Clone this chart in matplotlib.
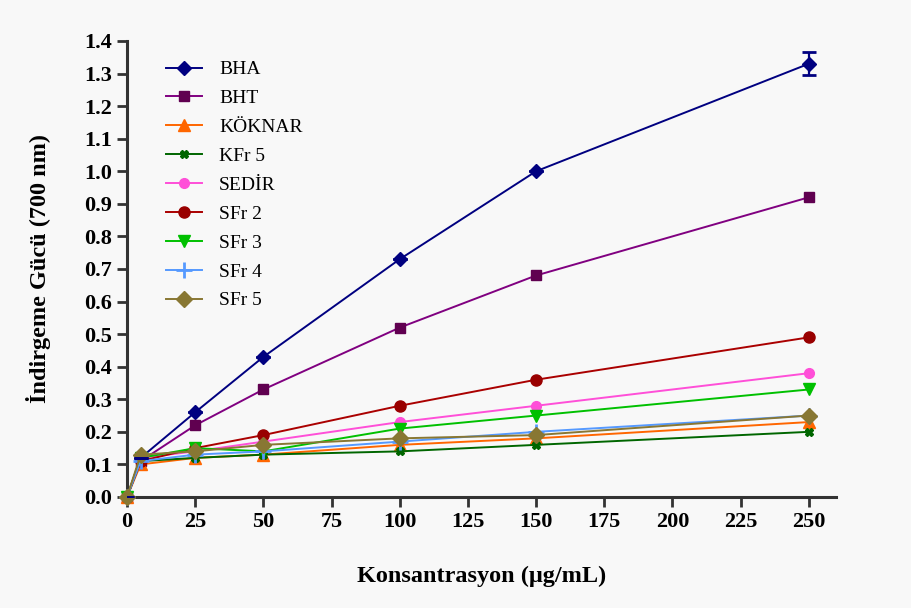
import numpy as np
import matplotlib.pyplot as plt

conc = [0, 5, 25, 50, 100, 150, 250]

bha = [0.0, 0.12, 0.26, 0.43, 0.73, 1.00, 1.33]
bht = [0.0, 0.11, 0.22, 0.33, 0.52, 0.68, 0.92]
koknar = [0.0, 0.10, 0.12, 0.13, 0.16, 0.18, 0.23]
kfr5 = [0.0, 0.11, 0.12, 0.13, 0.14, 0.16, 0.20]
sedir = [0.0, 0.12, 0.14, 0.17, 0.23, 0.28, 0.38]
sfr2 = [0.0, 0.11, 0.15, 0.19, 0.28, 0.36, 0.49]
sfr3 = [0.0, 0.12, 0.15, 0.14, 0.21, 0.25, 0.33]
sfr4 = [0.0, 0.11, 0.13, 0.14, 0.17, 0.20, 0.25]
sfr5 = [0.0, 0.13, 0.14, 0.16, 0.18, 0.19, 0.25]
bha_err = [0, 0, 0, 0, 0, 0, 0.035]

bg = "#f8f8f8"
fig = plt.figure(figsize=(9.11, 6.08), dpi=100, facecolor=bg)
ax = fig.add_axes([0.1394, 0.1826, 0.7783, 0.75])
ax.set_facecolor(bg)

series = [
    ("BHA", bha, "#000080", "#000080", "D", 7),
    ("BHT", bht, "#800080", "#600050", "s", 7),
    ("KÖKNAR", koknar, "#ff6600", "#ff6600", "^", 8),
    ("KFr 5", kfr5, "#006600", "#006600", "X", 6),
    ("SEDİR", sedir, "#ff4fd8", "#ff4fd8", "o", 7),
    ("SFr 2", sfr2, "#aa0000", "#990000", "o", 8),
    ("SFr 3", sfr3, "#00c000", "#00c000", "v", 8),
    ("SFr 4", sfr4, "#5599ff", "#5599ff", "+", 11),
    ("SFr 5", sfr5, "#887733", "#887733", "D", 8),
]

for name, vals, lc, mc, mk, ms in series:
    ax.plot(conc, vals, color=lc, marker=mk, markersize=ms, markerfacecolor=mc,
            markeredgecolor=mc, markeredgewidth=2 if mk == "+" else 1,
            lw=1.4, label=name, clip_on=False, zorder=3)

# error bar on BHA
ax.errorbar(conc, bha, yerr=bha_err, fmt="none", ecolor="#000080", capsize=5,
            capthick=2, elinewidth=1.6, zorder=3)

ax.set_xlim(0, 260)
ax.set_ylim(0, 1.4)
ax.set_xticks([0, 25, 50, 75, 100, 125, 150, 175, 200, 225, 250])
ax.set_yticks(np.arange(0, 1.41, 0.1))
ax.set_yticklabels([f"{v:.1f}" for v in np.arange(0, 1.41, 0.1)])

for s in ["top", "right"]:
    ax.spines[s].set_visible(False)
for s in ["left", "bottom"]:
    ax.spines[s].set_linewidth(2.2)
    ax.spines[s].set_color("#333333")
ax.tick_params(width=2, length=7, color="#333333", pad=4)
for lab in ax.get_xticklabels() + ax.get_yticklabels():
    lab.set_family("Liberation Serif")
    lab.set_fontweight("bold")
    lab.set_fontsize(16)

ax.set_xlabel("Konsantrasyon (\u03bcg/mL)", family="Liberation Serif",
              fontweight="bold", fontsize=17.5, labelpad=24)
ax.set_ylabel("\u0130ndirgeme G\u00fcc\u00fc (700 nm)", family="Liberation Serif",
              fontweight="bold", fontsize=17.5, labelpad=24)

leg = ax.legend(loc="upper left", bbox_to_anchor=(0.03, 0.995),
                frameon=False, prop={"family": "Liberation Serif", "size": 14},
                handlelength=1.85, labelspacing=0.58, handletextpad=0.9)

fig.savefig("out.png", dpi=100, facecolor=bg)
